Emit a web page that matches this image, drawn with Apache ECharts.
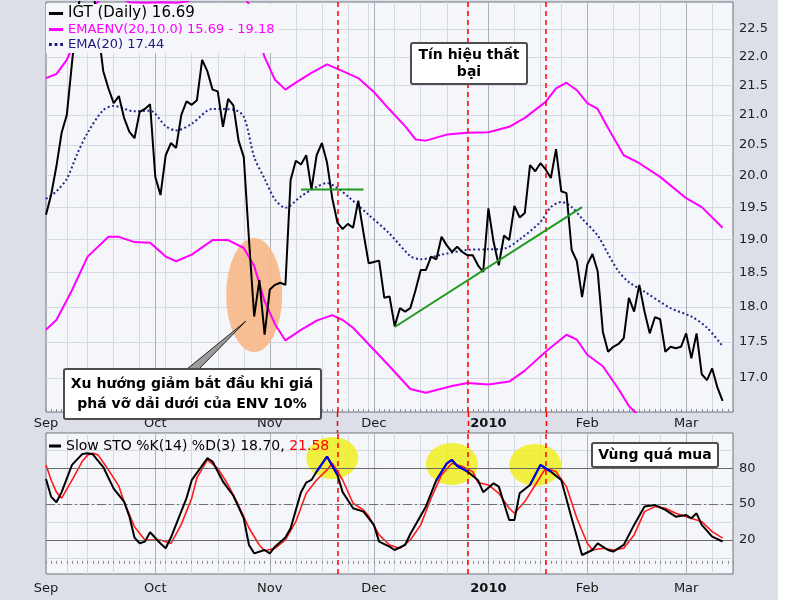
<!DOCTYPE html>
<html>
<head>
<meta charset="utf-8">
<title>IGT - EMA Envelope</title>
<script src="https://cdn.jsdelivr.net/npm/echarts@6/dist/echarts.min.js"></script>
<style>
  html, body { margin: 0; padding: 0; background: #fff; }
  #chart { width: 800px; height: 600px; }
</style>
</head>
<body>
<div id="chart"></div>
<script>
// trading days Sep 1 2009 .. Mar 12 2010 (NYSE holidays skipped)
const holidays = ['2009-09-07', '2009-11-26', '2009-12-25', '2010-01-01', '2010-01-18', '2010-02-15']
const tradingDays = []
for (let t = Date.UTC(2009, 8, 1); t <= Date.UTC(2010, 2, 12); t += 864e5) {
  const d = new Date(t)
  const s = d.toISOString().slice(0, 10)
  if (d.getUTCDay() === 0 || d.getUTCDay() === 6 || holidays.includes(s)) continue
  tradingDays.push(s)
}

// IGT daily close, one value per trading day
const igtClose = [
  19.38, 19.70, 20.15, 20.70, 21.00, 21.90, 22.80, 23.30, 23.50, 23.30,
  22.50, 21.75, 21.45, 21.20, 21.32, 20.95, 20.72, 20.61, 21.05, 21.10,
  21.18, 19.98, 19.69, 20.33, 20.53, 20.45, 21.00, 21.23, 21.17, 21.25,
  21.95, 21.75, 21.43, 21.40, 20.80, 21.27, 21.16, 20.57, 20.30, 19.00,
  17.86, 18.39, 17.60, 18.25, 18.32, 18.35, 18.32, 19.93, 20.24, 20.18,
  20.33, 19.78, 20.33, 20.53, 20.21, 19.64, 19.26, 19.16, 19.24, 19.18,
  19.60, 19.10, 18.64, 18.66, 18.68, 18.13, 18.15, 17.72, 17.98, 17.93,
  17.98, 18.24, 18.54, 18.54, 18.74, 18.70, 19.04, 18.91, 18.81, 18.89,
  18.81, 18.76, 18.76, 18.61, 18.51, 19.48, 18.96, 18.61, 19.06, 18.99,
  19.52, 19.34, 19.41, 20.17, 20.07, 20.20, 20.10, 19.96, 20.43, 19.75,
  19.72, 18.84, 18.67, 18.14, 18.62, 18.78, 18.52, 17.64, 17.36, 17.43,
  17.47, 17.55, 18.13, 17.93, 18.32, 17.93, 17.62, 17.85, 17.82, 17.36,
  17.43, 17.41, 17.43, 17.62, 17.27, 17.62, 17.05, 16.97, 17.13, 16.87,
  16.69
]

// [trading day index, value]
const ema20 = [
  [0, 19.63], [2, 19.75], [4, 19.95], [6, 20.35], [8, 20.70], [11, 21.08], [13, 21.15], [17, 21.06],
  [20, 21.07], [23, 20.81], [25, 20.74], [28, 20.85], [32, 21.10], [36, 21.09], [38, 20.97], [40, 20.30],
  [42, 19.95], [44, 19.62], [46, 19.49], [49, 19.67], [52, 19.82], [54, 19.88], [56, 19.80], [58, 19.67],
  [62, 19.38], [66, 19.09], [70, 18.75], [72, 18.70], [76, 18.77], [81, 18.84], [85, 18.85], [88, 18.86],
  [91, 19.00], [95, 19.27], [97, 19.50], [99, 19.58], [101, 19.50], [103, 19.32], [106, 19.06], [108, 18.78],
  [110, 18.52], [112, 18.36], [115, 18.22], [120, 17.98], [124, 17.86], [127, 17.70], [130, 17.44]
]
const upperBand = [
  [0, 21.63], [2, 21.70], [4, 21.95], [5, 22.15], [7, 22.55], [9, 22.90], [11, 23.10], [14, 23.08],
  [16, 22.99], [19, 22.98], [22, 22.99], [25, 22.98], [27, 23.00], [29, 23.08], [32, 23.20], [36, 23.20],
  [38, 23.10], [39, 22.95], [40, 22.60], [42, 22.00], [44, 21.60], [46, 21.43], [48, 21.55], [51, 21.72],
  [54, 21.87], [57, 21.75], [60, 21.63], [63, 21.39], [66, 21.09], [69, 20.81], [71, 20.59], [73, 20.57],
  [77, 20.67], [81, 20.70], [85, 20.71], [89, 20.80], [92, 20.95], [96, 21.22], [98, 21.45], [100, 21.55],
  [102, 21.42], [104, 21.20], [106, 21.10], [108, 20.78], [111, 20.33], [114, 20.20], [118, 19.98],
  [123, 19.64], [126, 19.50], [130, 19.18]
]
const lowerBand = [
  [0, 17.67], [2, 17.81], [5, 18.24], [8, 18.74], [12, 19.04], [14, 19.04], [17, 18.96], [20, 18.95],
  [23, 18.74], [25, 18.67], [28, 18.77], [32, 18.99], [35, 18.99], [38, 18.87], [40, 18.60], [42, 18.08],
  [44, 17.75], [46, 17.52], [49, 17.67], [52, 17.80], [55, 17.88], [57, 17.81], [59, 17.70], [63, 17.39],
  [66, 17.16], [70, 16.85], [73, 16.80], [78, 16.89], [81, 16.93], [85, 16.91], [89, 16.95], [92, 17.10],
  [96, 17.36], [100, 17.60], [102, 17.53], [104, 17.32], [107, 17.16], [110, 16.85], [112, 16.62],
  [115, 16.42], [120, 16.20], [125, 15.95], [130, 15.69]
]
const greenFlat = [[49, 19.78], [61, 19.78]]
const greenTrend = [[67, 17.71], [103, 19.50]]
const peachSpot = [[40, 18.17]]

const stoK = [
  [0, 71], [1, 56], [2, 51.5], [3, 60], [5, 82.8], [7, 92], [8, 92.6], [9, 91.7], [11, 81], [13, 63],
  [15, 52], [16, 40], [17, 22], [18, 17.2], [19, 18.6], [20, 26.4], [22, 17], [23, 13], [24, 22], [27, 55],
  [28, 70], [31, 88.4], [32, 85.6], [34, 68.8], [36, 57], [38, 38], [39, 15.8], [40, 8.8], [42, 11.6],
  [43, 8.8], [44, 14.4], [46, 22], [47, 29.8], [49, 60], [50, 68], [51, 70.2], [52, 77.2], [54, 89.8],
  [56, 74.4], [57, 60], [59, 46.5], [61, 43.7], [63, 32.6], [64, 18.6], [66, 14.4], [67, 11.6], [69, 15.8],
  [70, 25], [73, 48], [75, 70], [77, 84], [78, 87], [79, 82], [81, 77.2], [83, 70], [84, 60], [86, 67.4],
  [87, 64.6], [89, 36.7], [90, 36.7], [91, 59], [93, 66], [95, 82.8], [97, 77.2], [99, 70.2], [101, 38.1],
  [103, 7.4], [105, 11.6], [106, 17.2], [108, 11.6], [109, 10.2], [111, 15.8], [113, 32.6], [115, 47.9],
  [117, 49.3], [119, 45.1], [121, 39.5], [123, 40.9], [124, 38.1], [125, 42.3], [126, 32.6], [128, 22.8],
  [130, 18.7]
]
const stoD = [
  [0, 82.8], [1, 70], [2, 60], [3, 55], [5, 70], [7, 86], [8, 91], [9, 92.6], [10, 91.2], [12, 78.6],
  [14, 65], [15, 52], [17, 31], [19, 20], [21, 20], [22, 20], [24, 17], [26, 33], [28, 55], [29, 72],
  [31, 87], [33, 80], [35, 66], [37, 49], [39, 30], [41, 15.8], [42, 11], [44, 13], [46, 20], [48, 35.3],
  [50, 59], [52, 70.2], [54, 78.6], [55, 84.2], [57, 70.2], [59, 50.7], [61, 45.1], [62, 40], [64, 24.2],
  [66, 15.8], [68, 13], [70, 20], [72, 32.6], [74, 54.9], [76, 74.4], [78, 84.2], [80, 81.4], [82, 77.2],
  [83, 68], [85, 66], [87, 59], [89, 46.5], [90, 42.3], [92, 52.1], [94, 66], [96, 80], [98, 77.2],
  [100, 64.6], [102, 38.1], [104, 17.2], [105, 11.6], [107, 13], [109, 11.6], [111, 13], [113, 24.2],
  [115, 43.7], [117, 47.9], [119, 46.5], [121, 42.3], [123, 39.5], [125, 36.7], [126, 35.3], [128, 27],
  [130, 21.58]
]
const blueRanges = [[52, 56], [75, 81], [92, 97]]
const yellowSpots = [[55, 88.6], [78, 83.6], [94, 82.8]]
const signalDays = [56, 81, 96]

const priceTicks = [17.0, 17.5, 18.0, 18.5, 19.0, 19.5, 20.0, 20.5, 21.0, 21.5, 22.0, 22.5]
const stoLabels = [20, 50, 80]
const stoGrid = [5, 20, 35, 50, 65, 80, 95]
const monthNames = ['Jan', 'Feb', 'Mar', 'Apr', 'May', 'Jun', 'Jul', 'Aug', 'Sep', 'Oct', 'Nov', 'Dec']

const FONT = 'DejaVu Sans'
const isMonthStart = (i) => i === 0 || tradingDays[i].slice(5, 7) !== tradingDays[i - 1].slice(5, 7)
const isWeekStart = (i) => i > 0 && new Date(tradingDays[i]).getUTCDay() < new Date(tradingDays[i - 1]).getUTCDay()
const monthLabel = (v) => {
  const m = +v.slice(5, 7)
  return m === 1 ? '{y|' + v.slice(0, 4) + '}' : monthNames[m - 1]
}

function dayAxis(grid, margin) {
  return {
    type: 'category', gridIndex: grid, data: tradingDays, boundaryGap: false,
    axisLine: { show: false },
    axisTick: { show: true, inside: true, length: 3, interval: 0, lineStyle: { color: '#8a8d96' } },
    axisLabel: {
      interval: (i) => isMonthStart(i), formatter: monthLabel, margin: margin,
      color: '#1a1a1a', fontSize: 13, fontFamily: FONT,
      rich: { y: { fontWeight: 'bold', fontSize: 13, fontFamily: FONT, color: '#111' } }
    },
    splitLine: { show: true, interval: (i) => isWeekStart(i), lineStyle: { color: '#d6d9e1', width: 1 } }
  }
}
function monthAxis(grid) {
  return {
    type: 'category', gridIndex: grid, data: tradingDays, boundaryGap: false, position: 'top',
    axisLine: { show: false }, axisTick: { show: false }, axisLabel: { show: false },
    splitLine: { show: true, interval: (i) => i > 0 && isMonthStart(i), lineStyle: { color: '#aeb1bc', width: 1 } }
  }
}

const redDashed = {
  silent: true, symbol: 'none', label: { show: false },
  lineStyle: { color: '#ff0000', type: [5, 4], width: 1.5 },
  data: signalDays.map(d => ({ xAxis: d }))
}

const chart = echarts.init(document.getElementById('chart'), null, { renderer: 'canvas' })
chart.setOption({
  animation: false,
  backgroundColor: '#dcdfe7',
  grid: [
    { left: 46, right: 67, top: 2, height: 410, show: true, backgroundColor: '#f5f6fa', borderColor: '#6e727c', borderWidth: 1, containLabel: false, outerBoundsMode: 'none' },
    { left: 46, right: 67, top: 433, height: 141, show: true, backgroundColor: '#f5f6fa', borderColor: '#6e727c', borderWidth: 1, containLabel: false, outerBoundsMode: 'none' }
  ],
  xAxis: [dayAxis(0, 5), monthAxis(0), dayAxis(1, 8), monthAxis(1)],
  yAxis: [
    {
      type: 'log', logBase: 10, gridIndex: 0, position: 'right', min: 16.541, max: 22.993,
      axisLine: { show: false },
      axisTick: { show: false, customValues: priceTicks },
      axisLabel: { customValues: priceTicks, formatter: v => (+v).toFixed(1), color: '#222', fontSize: 13, fontFamily: FONT, margin: 6 },
      splitLine: { show: true, lineStyle: { color: '#d6d9e1', width: 1 } }
    },
    {
      type: 'value', gridIndex: 1, position: 'right', min: -8.5, max: 109.5,
      axisLine: { show: false },
      axisTick: { show: false, customValues: stoGrid },
      axisLabel: { customValues: stoLabels, color: '#222', fontSize: 13, fontFamily: FONT, margin: 6 },
      splitLine: { show: true, lineStyle: { color: '#d6d9e1', width: 1 } }
    }
  ],
  legend: [
    {
      left: 46, top: 4, orient: 'vertical', itemGap: 2, itemWidth: 14, itemHeight: 3,
      selectedMode: false, padding: [2, 4, 2, 3], backgroundColor: '#f5f6fa', z: 20,
      textStyle: { fontFamily: FONT, fontSize: 13 },
      data: [
        { name: 'IGT', icon: 'rect', textStyle: { color: '#000', fontSize: 15 } },
        { name: 'EMAENV', icon: 'rect', textStyle: { color: '#ff00ff' } },
        { name: 'EMA20', icon: 'path://M0,0h3v3h-3zM6,0h3v3h-3zM12,0h3v3h-3z', textStyle: { color: '#1a1a80' } }
      ],
      formatter: (n) => ({ IGT: 'IGT (Daily) 16.69', EMAENV: 'EMAENV(20,10.0) 15.69 - 19.18', EMA20: 'EMA(20) 17.44' })[n]
    },
    {
      left: 46, top: 437, itemWidth: 12, itemHeight: 3, selectedMode: false, padding: [2, 4, 2, 3],
      data: [{ name: 'STO', icon: 'rect' }],
      formatter: () => '{k|Slow STO %K(14) %D(3) 18.70,} {d|21.58}',
      textStyle: {
        fontFamily: FONT, fontSize: 14,
        rich: { k: { color: '#000', fontFamily: FONT, fontSize: 14 }, d: { color: '#ff0000', fontFamily: FONT, fontSize: 14 } }
      }
    }
  ],
  series: [
    {
      name: 'peach', type: 'scatter', xAxisIndex: 0, yAxisIndex: 0, data: peachSpot,
      symbol: 'circle', symbolSize: [56, 114], silent: true, z: 1,
      itemStyle: { color: '#f6b98b', opacity: 0.92 }
    },
    {
      name: 'EMAENV', type: 'line', xAxisIndex: 0, yAxisIndex: 0, data: upperBand, color: '#ff00ff',
      symbol: 'none', lineStyle: { color: '#ff00ff', width: 2 }, z: 3
    },
    {
      name: 'EMAENV', type: 'line', xAxisIndex: 0, yAxisIndex: 0, data: lowerBand, color: '#ff00ff',
      symbol: 'none', lineStyle: { color: '#ff00ff', width: 2 }, z: 3
    },
    {
      name: 'EMA20', type: 'line', xAxisIndex: 0, yAxisIndex: 0, data: ema20, color: '#1a1a80',
      symbol: 'none', smooth: 0.3, lineStyle: { color: '#25258c', width: 2, type: [2, 2.5] }, z: 3
    },
    {
      name: 'flat', type: 'line', xAxisIndex: 0, yAxisIndex: 0, data: greenFlat,
      symbol: 'none', lineStyle: { color: '#1f9a1f', width: 2 }, z: 6
    },
    {
      name: 'trend', type: 'line', xAxisIndex: 0, yAxisIndex: 0, data: greenTrend,
      symbol: 'none', lineStyle: { color: '#1f9a1f', width: 2 }, z: 6
    },
    {
      name: 'IGT', type: 'line', xAxisIndex: 0, yAxisIndex: 0, data: igtClose, color: '#000',
      symbol: 'none', lineStyle: { color: '#000', width: 2 }, z: 5,
      markLine: redDashed
    },
    {
      name: 'yellow', type: 'scatter', xAxisIndex: 2, yAxisIndex: 1, data: yellowSpots,
      symbol: 'circle', symbolSize: [52, 42], silent: true, z: 1,
      itemStyle: { color: '#f0ee10' }
    },
    {
      name: 'STOD', type: 'line', xAxisIndex: 2, yAxisIndex: 1, data: stoD, color: '#ff0000',
      symbol: 'none', lineStyle: { color: '#ff1a1a', width: 1.6 }, z: 4,
      markLine: {
        silent: true, symbol: 'none', label: { show: false },
        data: [
          { yAxis: 80, lineStyle: { color: '#6a6a6a', width: 1, type: 'solid' } },
          { yAxis: 20, lineStyle: { color: '#6a6a6a', width: 1, type: 'solid' } },
          { yAxis: 50, lineStyle: { color: '#707070', width: 1, type: [9, 3, 2, 3] } }
        ]
      }
    },
    {
      name: 'STO', type: 'line', xAxisIndex: 2, yAxisIndex: 1, data: stoK, color: '#000',
      symbol: 'none', lineStyle: { color: '#000', width: 2 }, z: 5,
      markLine: redDashed
    },
    ...blueRanges.map(([a, b]) => ({
      name: 'blue', type: 'line', xAxisIndex: 2, yAxisIndex: 1,
      data: stoK.filter(p => p[0] >= a && p[0] <= b),
      symbol: 'none', lineStyle: { color: '#0000ff', width: 2 }, z: 6
    }))
  ],
  graphic: [
    { id: 'rightStrip', type: 'rect', left: 778, top: 0, shape: { width: 22, height: 600 }, style: { fill: '#ffffff' }, z: 0 },
    {
      id: 'pointer', type: 'polygon', z: 100,
      shape: { points: [[187, 369], [199, 369], [246, 321]] },
      style: { fill: '#9c9c9c', stroke: '#222', lineWidth: 1 }
    },
    {
      id: 'boxBreak', type: 'group', left: 63, top: 368, z: 101,
      children: [
        { type: 'rect', shape: { x: 0, y: 0, width: 257, height: 50, r: 2 }, style: { fill: '#fff', stroke: '#4d4d4d', lineWidth: 2 }, z: 101 },
        {
          type: 'text', z: 102,
          style: {
            text: 'Xu hướng giảm bắt đầu khi giá\nphá vỡ dải dưới của ENV 10%',
            x: 128, y: 25, align: 'center', verticalAlign: 'middle',
            fontFamily: FONT, fontWeight: 'bold', fontSize: 14, lineHeight: 20, fill: '#000'
          }
        }
      ]
    },
    {
      id: 'boxFail', type: 'group', left: 410, top: 42, z: 101,
      children: [
        { type: 'rect', shape: { x: 0, y: 0, width: 116, height: 41, r: 2 }, style: { fill: '#fff', stroke: '#4d4d4d', lineWidth: 2 }, z: 101 },
        {
          type: 'text', z: 102,
          style: {
            text: 'Tín hiệu thất\nbại', x: 58, y: 21, align: 'center', verticalAlign: 'middle',
            fontFamily: FONT, fontWeight: 'bold', fontSize: 14, lineHeight: 17, fill: '#000'
          }
        }
      ]
    },
    {
      id: 'boxOverbought', type: 'group', left: 591, top: 442, z: 101,
      children: [
        { type: 'rect', shape: { x: 0, y: 0, width: 126, height: 24, r: 2 }, style: { fill: '#fff', stroke: '#4d4d4d', lineWidth: 2 }, z: 101 },
        {
          type: 'text', z: 102,
          style: {
            text: 'Vùng quá mua', x: 63, y: 12, align: 'center', verticalAlign: 'middle',
            fontFamily: FONT, fontWeight: 'bold', fontSize: 14, fill: '#000'
          }
        }
      ]
    }
  ]
})

// the signal lines also cross the gap between the two panels
const gapTop = chart.convertToPixel({ yAxisIndex: 0 }, 16.541)
const gapBottom = chart.convertToPixel({ yAxisIndex: 1 }, 109.5)
chart.setOption({
  graphic: signalDays.map((d, i) => {
    const x = Math.round(chart.convertToPixel({ xAxisIndex: 0 }, d)) + 0.5
    return {
      id: 'gapSignal' + i, type: 'line', z: 50, silent: true,
      shape: { x1: x, y1: gapTop, x2: x, y2: gapBottom },
      style: { stroke: '#ff0000', lineWidth: 1.5, lineDash: [5, 4] }
    }
  })
})
</script>
</body>
</html>
